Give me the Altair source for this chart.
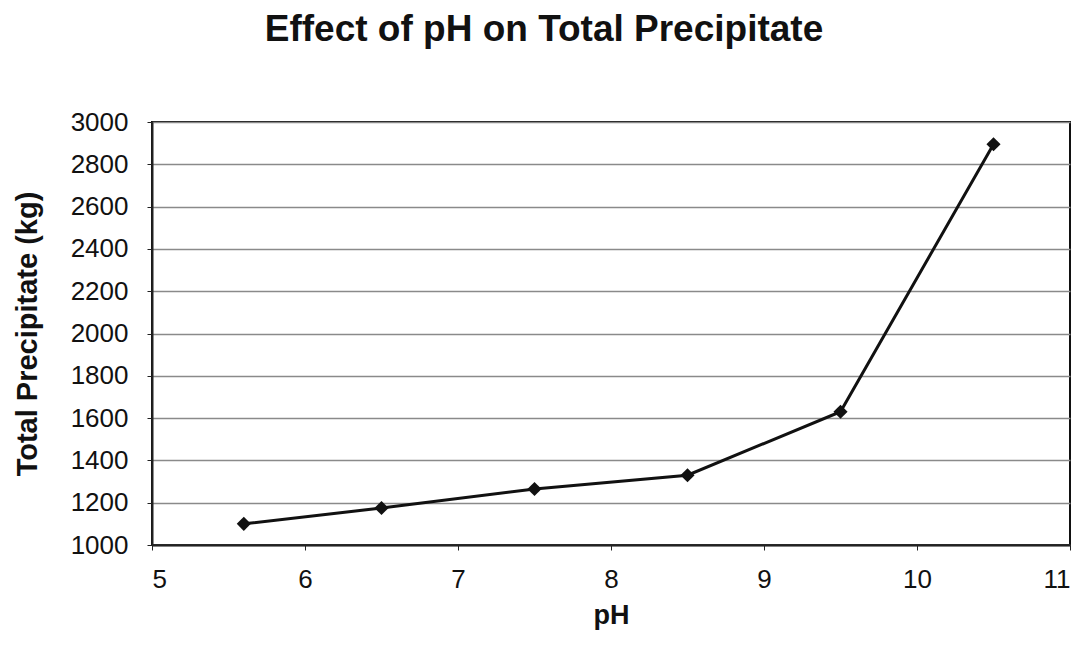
import altair as alt
import pandas as pd

ph = [5.6, 6.5, 7.5, 8.5, 9.5, 10.5]
precip = [1100, 1175, 1265, 1330, 1630, 2895]

df = pd.DataFrame({"pH": ph, "precip": precip})

FONT = "Liberation Sans"

base = alt.Chart(df).encode(
    x=alt.X("pH:Q", scale=alt.Scale(domain=[5, 11], nice=False, zero=False),
            axis=alt.Axis(title="pH", values=[5, 6, 7, 8, 9, 10, 11], grid=False, format="d",
                          labelFontSize=26, labelFont=FONT, labelColor="#111",
                          titleFontSize=27, titleFont=FONT, titleFontWeight="bold",
                          titleColor="#111", labelPadding=16, titlePadding=10,
                          tickSize=5, domainColor="#222", tickColor="#222", domainWidth=2)),
    y=alt.Y("precip:Q", scale=alt.Scale(domain=[1000, 3000], nice=False, zero=False),
            axis=alt.Axis(title="Total Precipitate (kg)", values=list(range(1000, 3001, 200)),
                          format="d",
                          grid=True, gridColor="#8a8a8a", gridWidth=1.5,
                          labelFontSize=26, labelFont=FONT, labelColor="#111",
                          titleFontSize=29, titleFont=FONT, titleFontWeight="bold",
                          titleColor="#111", labelPadding=19, titlePadding=28,
                          tickSize=5, domainColor="#222", tickColor="#222", domainWidth=2)),
)

line = base.mark_line(color="#111", strokeWidth=3)
pts = base.mark_point(shape="diamond", filled=True, color="#111", size=200, opacity=1)

chart = (line + pts).properties(
    width=918, height=423,
    title=alt.TitleParams("Effect of pH on Total Precipitate", fontSize=37,
                          font=FONT, fontWeight="bold", color="#111",
                          offset=60, dx=-67),
    padding={"left": 152, "top": 122, "right": 19, "bottom": 116},
    autosize=alt.AutoSizeParams(type="none"),
).configure_view(stroke="#111", strokeWidth=2)

chart.save("out.html", embed_options={"renderer": "svg", "actions": False})
